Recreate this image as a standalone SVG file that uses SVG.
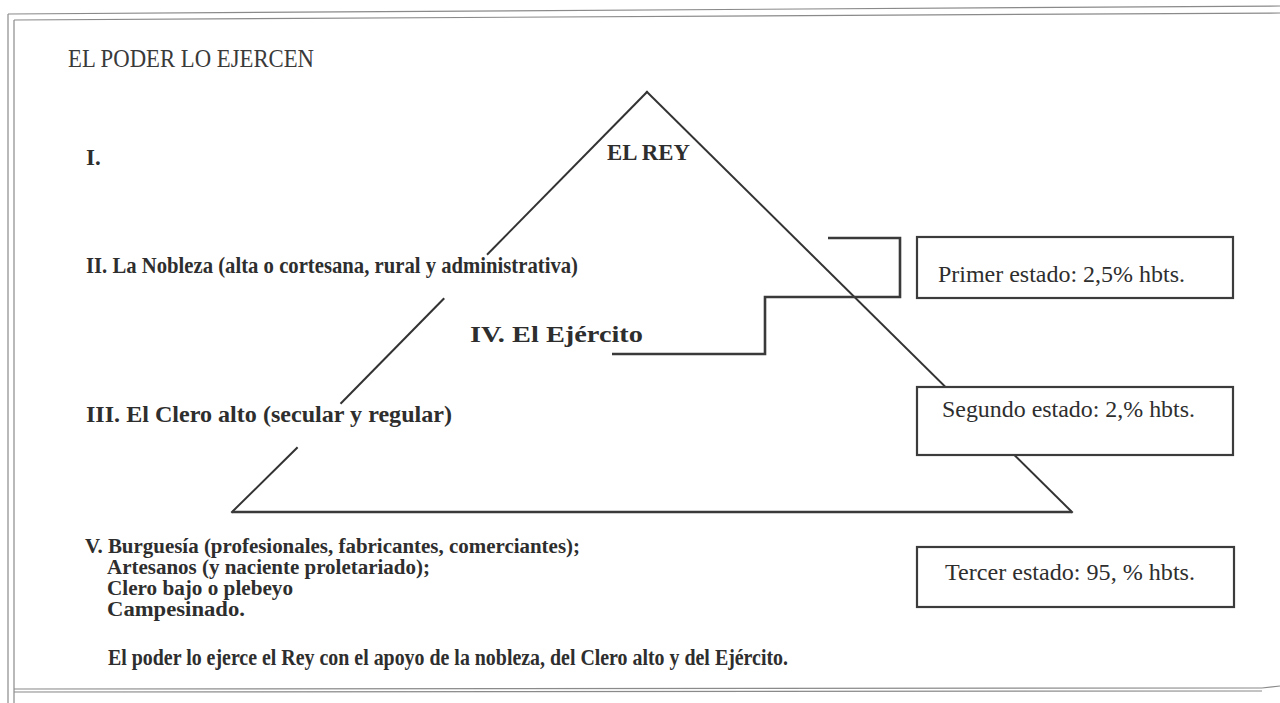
<svg xmlns="http://www.w3.org/2000/svg" width="1280" height="703" viewBox="0 0 1280 703">
<style>
.frame{fill:none;stroke:#8a8a8a;stroke-width:1.2}
.ln{fill:none;stroke:#333;stroke-width:2;stroke-linecap:square}
.thick{fill:none;stroke:#3a3a3a;stroke-width:2.6}
.box{fill:#fff;stroke:#3c3c3c;stroke-width:2.2}
.b{font-family:"Liberation Serif","Times New Roman",serif;font-weight:bold;font-size:23px;fill:#2e2e2e}
.bs{font-family:"Liberation Serif","Times New Roman",serif;font-weight:bold;font-size:20px;fill:#2e2e2e}
.r{font-family:"Liberation Serif","Times New Roman",serif;font-size:24px;fill:#2e2e2e}
.m{font-family:"Liberation Serif","Times New Roman",serif;font-size:25px;fill:#3a3a3a}
</style>
<rect width="1280" height="703" fill="#fff"/>
<g id="frame">
<line class="frame" x1="8" y1="14" x2="8" y2="703"/>
<line class="frame" x1="14" y1="20" x2="14" y2="703"/>
<line class="frame" x1="8" y1="14" x2="1280" y2="6"/>
<line class="frame" x1="14" y1="20" x2="1280" y2="13"/>
<line class="frame" x1="14" y1="689" x2="1262" y2="688"/>
<line class="frame" x1="14" y1="692" x2="1262" y2="691"/>
<line class="frame" x1="1262" y1="688" x2="1280" y2="686"/>
</g>
<g id="title"><text class="m" x="68" y="67" textLength="246" lengthAdjust="spacingAndGlyphs">EL PODER LO EJERCEN</text></g>
<g id="connectors">
<line class="ln" x1="647" y1="92" x2="487.7" y2="254"/>
<line class="ln" x1="443.5" y1="299" x2="341.2" y2="403"/>
<line class="ln" x1="296.9" y1="448" x2="232" y2="512"/>
<line class="ln" x1="647" y1="92" x2="1072" y2="512"/>
<line class="thick" x1="232" y1="512" x2="1072" y2="512"/>
<polyline class="thick" points="828,238 900,238 900,297 765,297 765,354 612,354"/>
</g>
<g id="rey"><text class="b" x="607" y="160" textLength="83" lengthAdjust="spacingAndGlyphs">EL REY</text></g>
<g id="nivel-1"><text class="b" x="86" y="165">I.</text></g>
<g id="nobleza"><text class="b" x="86" y="273" textLength="492" lengthAdjust="spacingAndGlyphs">II. La Nobleza (alta o cortesana, rural y administrativa)</text></g>
<g id="ejercito"><text class="b" x="470" y="342" font-size="25" textLength="173" lengthAdjust="spacingAndGlyphs">IV. El Ejército</text></g>
<g id="clero"><text class="b" x="86" y="422" textLength="366" lengthAdjust="spacingAndGlyphs">III. El Clero alto (secular y regular)</text></g>
<g id="tercero">
<text class="bs" x="85" y="553" textLength="495" lengthAdjust="spacingAndGlyphs">V. Burguesía (profesionales, fabricantes, comerciantes);</text>
<text class="bs" x="107" y="574" textLength="323" lengthAdjust="spacingAndGlyphs">Artesanos (y naciente proletariado);</text>
<text class="bs" x="107" y="595" textLength="186" lengthAdjust="spacingAndGlyphs">Clero bajo o plebeyo</text>
<text class="bs" x="107" y="616" textLength="138" lengthAdjust="spacingAndGlyphs">Campesinado.</text>
</g>
<g id="conclusion"><text class="b" x="108" y="665" textLength="680" lengthAdjust="spacingAndGlyphs">El poder lo ejerce el Rey con el apoyo de la nobleza, del Clero alto y del Ejército.</text></g>
<g id="primer-estado">
<rect class="box" x="917" y="237" width="316" height="61"/>
<text class="r" x="938" y="282" textLength="247" lengthAdjust="spacingAndGlyphs">Primer estado: 2,5% hbts.</text>
</g>
<g id="segundo-estado">
<rect class="box" x="917" y="387" width="316" height="68"/>
<text class="r" x="942" y="417" textLength="253" lengthAdjust="spacingAndGlyphs">Segundo estado: 2,% hbts.</text>
</g>
<g id="tercer-estado">
<rect class="box" x="917" y="547" width="317" height="60"/>
<text class="r" x="945" y="580" textLength="250" lengthAdjust="spacingAndGlyphs">Tercer estado: 95, % hbts.</text>
</g>
</svg>
